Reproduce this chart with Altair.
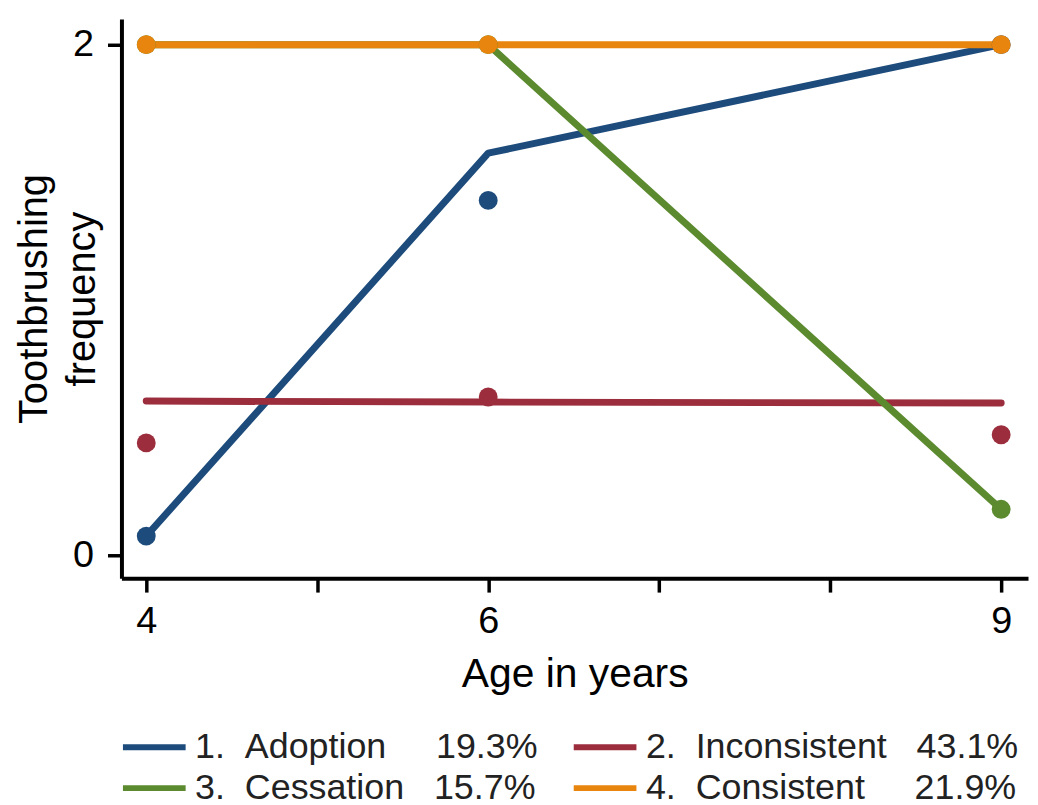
import altair as alt
import pandas as pd

ages = [4, 6, 9]
names = ["Adoption", "Inconsistent", "Cessation", "Consistent"]
numbers = ["1.", "2.", "3.", "4."]
percents = ["19.3%", "43.1%", "15.7%", "21.9%"]
gaps = [5, 3, 3, 5]
colors = ["#1d4b7c", "#9b2d3c", "#5b8a2f", "#e8850f"]

fit_adoption = [0.075, 1.575, 2.0]
fit_inconsistent = [0.604, 0.600, 0.596]
fit_cessation = [2.0, 2.0, 0.18]
fit_consistent = [2.0, 2.0, 2.0]

obs_adoption = [0.075, 1.39, 2.0]
obs_inconsistent = [0.44, 0.62, 0.472]
obs_cessation = [2.0, 2.0, 0.18]
obs_consistent = [2.0, 2.0, 2.0]

fits = [fit_adoption, fit_inconsistent, fit_cessation, fit_consistent]
obss = [obs_adoption, obs_inconsistent, obs_cessation, obs_consistent]

NB = "\u00a0"
labels = [f"{n}{NB*2}{name}{NB*g}{p}" for n, name, g, p in zip(numbers, names, gaps, percents)]

rows = []
for i, lab in enumerate(labels):
    for a, f, o in zip(ages, fits[i], obss[i]):
        rows.append({"group": lab, "order": i, "age": a, "fit": f, "obs": o})
df = pd.DataFrame(rows)

FONT = "Liberation Sans, Arial, sans-serif"

xscale = alt.Scale(domain=[3.855, 9.157], nice=False, zero=False)
yscale = alt.Scale(domain=[-0.0897, 2.101], nice=False, zero=False)
cscale = alt.Scale(domain=labels, range=colors)

base = alt.Chart(df)

lines = base.mark_line(strokeWidth=7, strokeCap="round", strokeJoin="round").encode(
    x=alt.X("age:Q", scale=xscale, title="Age in years",
            axis=alt.Axis(values=[4, 5, 6, 7, 8, 9], format="d",
                          labelExpr="(datum.value == 4 || datum.value == 6 || datum.value == 9) ? datum.label : ''",
                          grid=False, tickSize=14, tickWidth=3.5, domainWidth=4,
                          labelFontSize=38, labelPadding=11, titleFontSize=41, titlePadding=14,
                          labelFont=FONT, titleFont=FONT, titleFontWeight="normal",
                          domainColor="black", tickColor="black", labelColor="black", titleColor="black")),
    y=alt.Y("fit:Q", scale=yscale, title=["Toothbrushing", "frequency"],
            axis=alt.Axis(values=[0, 2], format="d", grid=False, tickSize=14, tickWidth=3.5, domainWidth=4,
                          labelFontSize=38, labelPadding=14, titleFontSize=40, titleFont=FONT,
                          labelFont=FONT, titleFontWeight="normal", titleLineHeight=48,
                          titleX=-75, titleAngle=270, titleBaseline="alphabetic", titleAlign="center",
                          domainColor="black", tickColor="black", labelColor="black", titleColor="black")),
    color=alt.Color("group:N", scale=cscale, sort=labels,
                    legend=alt.Legend(title=None, orient="none", legendX=15, legendY=714, columns=2,
                                      direction="horizontal", gridAlign="each",
                                      symbolType="M-3,0H3", symbolSize=441, symbolStrokeWidth=6,
                                      symbolFillColor="transparent",
                                      labelFontSize=36, labelFont=FONT, labelColor="#222222",
                                      labelOffset=23, columnPadding=23, rowPadding=5,
                                      labelLimit=600)),
    detail="group:N",
    order=alt.Order("order:Q"),
)

points = base.mark_circle(size=360, opacity=1).encode(
    x=alt.X("age:Q", scale=xscale),
    y=alt.Y("obs:Q", scale=yscale),
    color=alt.Color("group:N", scale=cscale, sort=labels, legend=None),
    order=alt.Order("order:Q"),
)

chart = alt.layer(lines, points).properties(
    width=911, height=562,
    padding={"left": 114, "top": 9, "right": 2, "bottom": 226},
    autosize=alt.AutoSizeParams(type="none"),
).configure_view(stroke=None)

chart.save("out.html", embed_options={"renderer": "svg", "actions": False})
